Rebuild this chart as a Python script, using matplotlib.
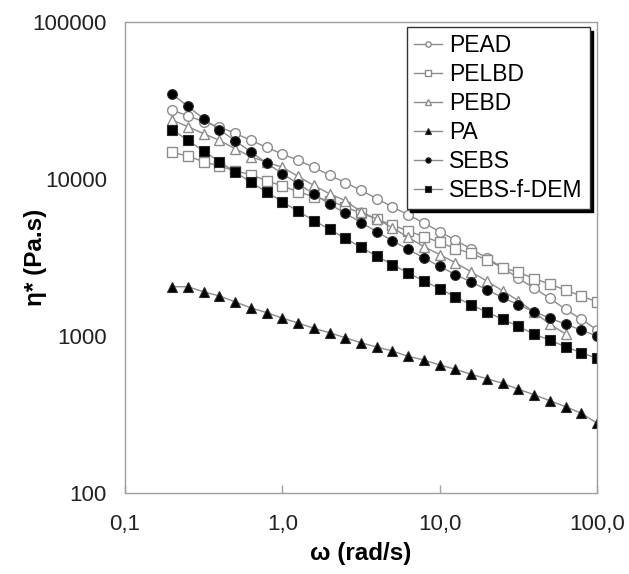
import numpy as np
import matplotlib
matplotlib.use('Agg')
import matplotlib.pyplot as plt
from matplotlib.ticker import FixedLocator, FixedFormatter, NullLocator

plt.rcParams['font.family'] = ['Liberation Sans', 'DejaVu Sans']

# frequency (rad/s), 10 points per decade from 0.2 to 100
omega = [0.1995, 0.2512, 0.3162, 0.3981, 0.5012, 0.6310, 0.7943, 1.0, 1.259, 1.585,
         1.995, 2.512, 3.162, 3.981, 5.012, 6.310, 7.943, 10.0, 12.59, 15.85,
         19.95, 25.12, 31.62, 39.81, 50.12, 63.10, 79.43, 100.0]

pead = [27400, 25300, 23170, 21430, 19540, 17630, 15910, 14420, 13150, 11880,
        10570, 9480, 8480, 7500, 6640, 5910, 5250, 4620, 4080, 3580,
        3140, 2730, 2330, 2020, 1740, 1480, 1280, 1095]
pelbd = [14800, 14000, 12880, 12100, 11250, 10660, 9760, 9020, 8300, 7700,
         7270, 6660, 6050, 5560, 5090, 4660, 4290, 3950, 3600, 3360,
         3050, 2720, 2550, 2320, 2140, 1960, 1800, 1650]
pebd = [23770, 21530, 19440, 17630, 15600, 13870, 12800, 11870, 10400, 9100,
        8050, 7280, 6190, 5560, 4890, 4250, 3710, 3300, 2930, 2560,
        2240, 1940, 1680, 1420, 1190, 1030]
pa = [2060, 2060, 1910, 1800, 1650, 1510, 1410, 1300, 1210, 1120,
      1050, 975, 906, 851, 802, 742, 703, 654, 614, 570,
      535, 500, 458, 423, 387, 355, 322, 279]
sebs = [34750, 29000, 24200, 20600, 17540, 14860, 12640, 10810, 9340, 8030,
        6920, 6050, 5280, 4620, 4040, 3560, 3140, 2780, 2460, 2210,
        1970, 1760, 1580, 1430, 1300, 1190, 1090, 1000]
sebs_dem = [20600, 17630, 15070, 12880, 11090, 9530, 8270, 7160, 6230, 5440,
            4780, 4190, 3670, 3230, 2850, 2520, 2240, 2005, 1770, 1580,
            1420, 1280, 1150, 1030, 940, 855, 783, 721]

names = ['PEAD', 'PELBD', 'PEBD', 'PA', 'SEBS', 'SEBS-f-DEM']
series = [pead, pelbd, pebd, pa, sebs, sebs_dem]
markers = ['o', 's', '^', '^', 'o', 's']
filled = [False, False, False, True, True, True]

x_ticks = [0.1, 1.0, 10.0, 100.0]
x_labels = ['0,1', '1,0', '10,0', '100,0']
y_ticks = [100, 1000, 10000, 100000]
y_labels = ['100', '1000', '10000', '100000']

fig = plt.figure(figsize=(6.29, 5.74), dpi=100)
ax = fig.add_axes([0.1987, 0.1411, 0.7504, 0.8206])

line_col = '#8c8c8c'
for name, y, m, f in zip(names, series, markers, filled):
    x = omega[:len(y)]
    if f:
        ax.plot(x, y, '-', color=line_col, lw=1.0, marker=m, ms=7,
                mfc='black', mec='#2a2a2a', mew=0.8, label=name)
    else:
        ax.plot(x, y, '-', color=line_col, lw=1.0, marker=m, ms=7,
                mfc='white', mec='#8c8c8c', mew=1.0, label=name)

ax.set_xscale('log')
ax.set_yscale('log')
ax.set_xlim(0.1, 100)
ax.set_ylim(100, 100000)

ax.xaxis.set_major_locator(FixedLocator(x_ticks))
ax.xaxis.set_major_formatter(FixedFormatter(x_labels))
ax.xaxis.set_minor_locator(NullLocator())
ax.yaxis.set_major_locator(FixedLocator(y_ticks))
ax.yaxis.set_major_formatter(FixedFormatter(y_labels))
ax.yaxis.set_minor_locator(NullLocator())

ax.tick_params(axis='x', direction='in', length=6, width=1, color='#a0a0a0',
               labelsize=16, pad=15, labelcolor='#222222')
ax.tick_params(axis='y', length=0, labelsize=16, pad=13, labelcolor='#222222')
for s in ax.spines.values():
    s.set_color('#a0a0a0')
    s.set_linewidth(1.0)

ax.set_xlabel('ω (rad/s)', fontsize=17.5, fontweight='bold', labelpad=5)
ax.set_ylabel('η* (Pa.s)', fontsize=17.5, fontweight='bold')
ax.yaxis.set_label_coords(-0.165, 0.5)

leg = ax.legend(loc='upper left', bbox_to_anchor=(0.597, 0.989), borderaxespad=0,
                fontsize=16.5, fancybox=False, markerscale=0.55, handlelength=1.25,
                handletextpad=0.3, labelspacing=0.26, borderpad=0.3,
                shadow={'ox': 2.5, 'oy': -2.5, 'facecolor': 'black',
                        'edgecolor': 'black', 'alpha': 1.0})
leg.get_frame().set_edgecolor('#333333')
leg.get_frame().set_linewidth(1.0)

fig.savefig('out.png', dpi=100)
